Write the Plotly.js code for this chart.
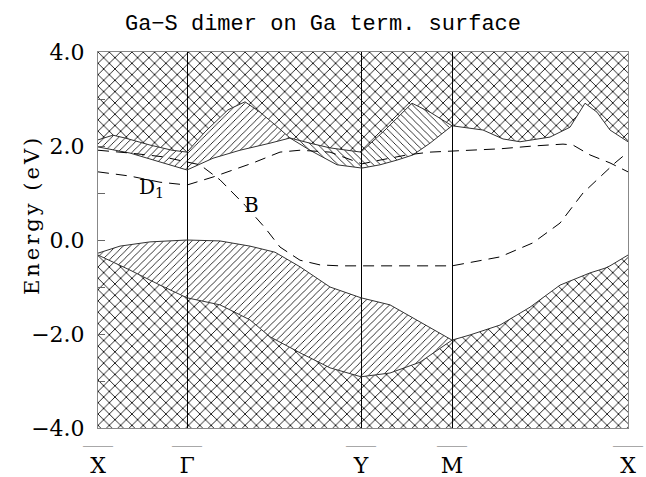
<!DOCTYPE html>
<html>
<head>
<meta charset="utf-8">
<script src="https://cdn.plot.ly/plotly-3.0.1.min.js"></script>
<style>html,body{margin:0;padding:0;background:#fff;}#chart{width:646px;height:477px;}</style>
</head>
<body>
<div id="chart"></div>
<script>
// k-path positions of the symmetry points and their labels
const kTicks = [0, 0.89, 2.63, 3.54, 5.30];
const kLabels = ['X', 'Γ', 'Y', 'M', 'X'];
const energyRange = [-4, 4];
const energyTicks = [-4, -2, 0, 2, 4];

// upper bulk region (cross-hatched): its lower edge
const condBulkK = [0, 0.15, 0.27, 0.52, 0.74, 0.89, 1.07, 1.30, 1.47, 1.62, 1.77, 1.92, 2.12, 2.32, 2.63, 2.87, 3.14, 3.32, 3.54, 3.85, 4.05, 4.22, 4.52, 4.72, 4.87, 4.99, 5.12, 5.30];
const condBulkE = [2.13, 2.23, 2.17, 2.02, 1.91, 1.87, 2.30, 2.77, 2.94, 2.72, 2.45, 2.17, 2.06, 1.96, 1.87, 2.34, 2.91, 2.72, 2.43, 2.34, 2.15, 2.09, 2.19, 2.40, 2.91, 2.72, 2.34, 2.09];

// lower edge of the single-hatched conduction region (X .. M)
const condEdgeK = [0, 0.32, 0.62, 0.89, 1.15, 1.42, 1.72, 1.92, 2.12, 2.39, 2.64, 2.82, 2.99, 3.15, 3.32, 3.49, 3.54];
const condEdgeE = [1.98, 1.85, 1.66, 1.49, 1.74, 1.91, 2.06, 2.17, 1.91, 1.60, 1.53, 1.60, 1.70, 1.81, 2.06, 2.34, 2.43];

// top edge of the single-hatched valence region (X .. M)
const valEdgeK = [0, 0.22, 0.52, 0.89, 1.22, 1.52, 1.77, 2.02, 2.32, 2.63, 2.92, 3.22, 3.54];
const valEdgeE = [-0.28, -0.13, -0.04, 0.0, -0.02, -0.13, -0.26, -0.57, -1.0, -1.23, -1.38, -1.74, -2.13];

// lower bulk region (cross-hatched): its upper edge
const valBulkK = [0, 0.32, 0.62, 0.89, 1.22, 1.52, 1.72, 2.02, 2.32, 2.63, 2.92, 3.22, 3.54, 3.72, 4.02, 4.32, 4.62, 4.92, 5.07, 5.12, 5.30];
const valBulkE = [-0.32, -0.64, -0.96, -1.23, -1.38, -1.70, -2.06, -2.40, -2.72, -2.91, -2.83, -2.60, -2.13, -2.02, -1.81, -1.43, -0.96, -0.70, -0.60, -0.55, -0.32];

// surface state D1 (dashed)
const d1K = [0, 0.32, 0.62, 0.89, 1.15, 1.55, 1.82, 2.02, 2.32, 2.64, 2.82, 3.09, 3.32, 3.54, 4.02, 4.35, 4.65, 4.75, 4.92, 5.12, 5.30];
const d1E = [1.45, 1.36, 1.23, 1.17, 1.34, 1.64, 1.87, 1.91, 1.87, 1.62, 1.70, 1.81, 1.87, 1.89, 1.94, 2.0, 2.04, 2.02, 1.81, 1.64, 1.45];

// surface state B (dashed)
const bK = [0, 0.32, 0.65, 0.89, 1.02, 1.22, 1.47, 1.67, 1.82, 2.02, 2.22, 2.42, 2.63, 3.02, 3.54, 4.02, 4.35, 4.62, 4.85, 5.02, 5.17, 5.30];
const bE = [1.91, 1.85, 1.77, 1.66, 1.60, 1.28, 0.74, 0.26, -0.15, -0.43, -0.53, -0.55, -0.55, -0.55, -0.55, -0.36, -0.06, 0.36, 1.0, 1.34, 1.64, 1.87];

const pinchK = 1.92;

function sub(ks, es, k0, k1) {
  const x = [], y = [];
  ks.forEach((k, i) => { if (k >= k0 - 1e-9 && k <= k1 + 1e-9) { x.push(k); y.push(es[i]); } });
  return {x, y};
}
function polyBetween(a, b) {
  return {x: a.x.concat(b.x.slice().reverse()), y: a.y.concat(b.y.slice().reverse())};
}
function polyToLevel(a, level) {
  return {x: a.x.concat([a.x[a.x.length - 1], a.x[0]]), y: a.y.concat([level, level])};
}

const edgeLine = {color: '#333', width: 1};
const cross = {shape: 'x', size: 8, solidity: 0.2, fgcolor: '#000', bgcolor: 'rgba(0,0,0,0)', fillmode: 'replace'};
const diagA = {shape: '/', size: 5, solidity: 0.16, fgcolor: '#000', bgcolor: 'rgba(0,0,0,0)', fillmode: 'replace'};
const diagB = {shape: '\\', size: 5, solidity: 0.16, fgcolor: '#000', bgcolor: 'rgba(0,0,0,0)', fillmode: 'replace'};

const kEnd = kTicks[kTicks.length - 1];
const kMpt = kTicks[3];

const upperBulk = polyToLevel({x: condBulkK, y: condBulkE}, energyRange[1]);
const lowerBulk = polyToLevel({x: valBulkK, y: valBulkE}, energyRange[0]);
const condLeft = polyBetween(sub(condBulkK, condBulkE, 0, pinchK), sub(condEdgeK, condEdgeE, 0, pinchK));
const condRight = polyBetween(sub(condBulkK, condBulkE, pinchK, kMpt), sub(condEdgeK, condEdgeE, pinchK, kMpt));
const valRegion = polyBetween({x: valEdgeK, y: valEdgeE}, sub(valBulkK, valBulkE, 0, kMpt));

function region(p, pat) {
  return {x: p.x, y: p.y, mode: 'lines', fill: 'toself', fillcolor: 'rgba(0,0,0,0)',
    fillpattern: pat, line: {color: 'rgba(0,0,0,0)', width: 0}, hoverinfo: 'skip', showlegend: false};
}
function edge(x, y) {
  return {x, y, mode: 'lines', line: edgeLine, hoverinfo: 'skip', showlegend: false};
}
function dashed(x, y) {
  return {x, y, mode: 'lines', line: {color: '#000', width: 1, dash: '11px,7px'}, hoverinfo: 'skip', showlegend: false};
}

const traces = [
  region(upperBulk, cross),
  region(lowerBulk, cross),
  region(condLeft, diagA),
  region(condRight, diagB),
  region(valRegion, diagA),
  edge(condBulkK, condBulkE),
  edge(condEdgeK, condEdgeE),
  edge(valEdgeK, valEdgeE),
  edge(valBulkK, valBulkE),
  dashed(d1K, d1E),
  dashed(bK, bE)
];

const serif = 'DejaVu Serif, Liberation Serif, serif';
const tickText = kLabels.map(l => "<span style='font-size:15px;font-family:Liberation Serif;fill:#666'>——</span><br><span style='font-size:22px'>" + l + "</span>");

const layout = {
  width: 646, height: 477,
  margin: {l: 98, r: 18, t: 52, b: 49},
  paper_bgcolor: '#fff', plot_bgcolor: '#fff',
  showlegend: false,
  title: {text: 'Ga−S dimer on Ga term. surface', font: {family: 'Liberation Mono, monospace', size: 22, color: '#000'},
    x: 0.5, xanchor: 'center', y: 0.953, yanchor: 'middle', yref: 'container'},
  xaxis: {range: [0, kEnd], tickvals: kTicks, ticktext: tickText, showgrid: true, gridcolor: '#000', gridwidth: 1,
    zeroline: false, showline: true, mirror: true, linecolor: '#888', linewidth: 1, ticks: '',
    ticklabelstandoff: 1,
    tickfont: {family: serif, size: 17, color: '#000'}, fixedrange: true},
  yaxis: {range: energyRange, tickvals: energyTicks, tickformat: '.1f', showgrid: false, zeroline: false,
    showline: true, mirror: true, linecolor: '#888', linewidth: 1, ticks: 'inside', ticklen: 7, tickcolor: '#666',
    minor: {dtick: 1, ticks: 'inside', ticklen: 7, tickcolor: '#666'},
    ticklabelstandoff: 8,
    tickfont: {family: serif, size: 22, color: '#000'}, fixedrange: true},
  annotations: [
    {xref: 'paper', yref: 'paper', x: 0, y: 0.5, xshift: -66, yshift: 25, xanchor: 'center', yanchor: 'middle', textangle: -90,
      text: "<span style='letter-spacing:3px'>Energy (eV)</span>", showarrow: false, font: {family: serif, size: 21, color: '#000'}},
    {x: 0.53, y: 1.1, text: 'D<sub>1</sub>', showarrow: false, font: {family: serif, size: 20, color: '#000'}},
    {x: 1.53, y: 0.75, text: 'B', showarrow: false, font: {family: serif, size: 20, color: '#000'}}
  ]
};

Plotly.newPlot('chart', traces, layout, {staticPlot: true, displayModeBar: false});
</script>
</body>
</html>
